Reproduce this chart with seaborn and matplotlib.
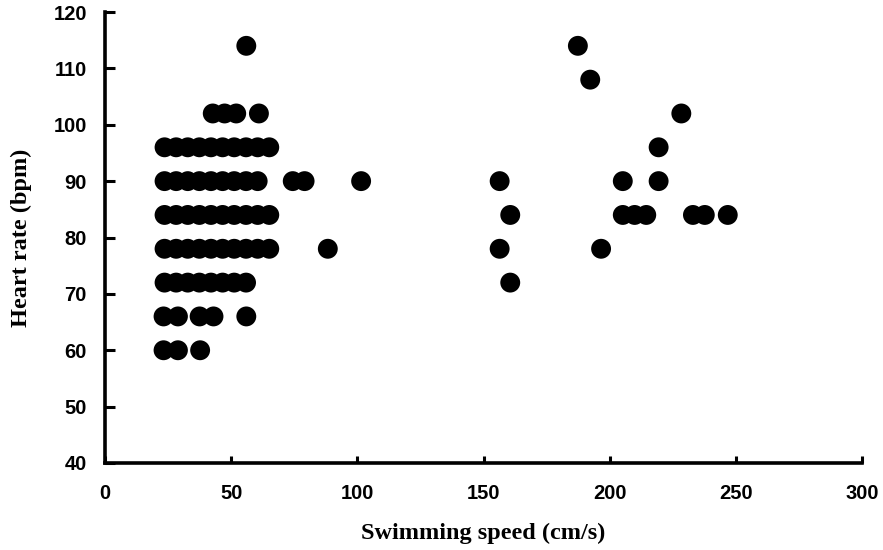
import pandas as pd
import numpy as np
import matplotlib
matplotlib.use("Agg")
import matplotlib.pyplot as plt
import seaborn as sns

# Swimming speed (cm/s) of each point, one list per heart-rate level (bpm)
hr_levels = [60, 66, 72, 78, 84, 90, 96, 102, 108, 114]

speed_60 = [23.2, 28.9, 37.7]
speed_66 = [23.2, 28.9, 37.5, 43.0, 56.0]
speed_72 = [23.6, 28.2, 32.8, 37.4, 42.0, 46.6, 51.2, 55.9, 160.6]
speed_78 = [23.6, 28.2, 32.8, 37.4, 42.0, 46.6, 51.2, 55.9, 60.5, 65.1,
            88.3, 156.4, 196.6]
speed_84 = [23.6, 28.2, 32.8, 37.4, 42.0, 46.6, 51.2, 55.9, 60.5, 65.1,
            160.6, 205.2, 209.9, 214.5, 233.0, 237.7, 246.8]
speed_90 = [23.6, 28.2, 32.8, 37.4, 42.0, 46.6, 51.2, 55.9, 60.5,
            74.4, 79.1, 101.5, 156.4, 205.2, 219.4]
speed_96 = [23.6, 28.2, 32.8, 37.4, 42.0, 46.6, 51.2, 55.9, 60.5, 65.1,
            219.4]
speed_102 = [42.7, 47.4, 52.0, 61.0, 228.4]
speed_108 = [192.3]
speed_114 = [56.0, 187.4]

speed_lists = [speed_60, speed_66, speed_72, speed_78, speed_84,
               speed_90, speed_96, speed_102, speed_108, speed_114]

x_ticks = [0, 50, 100, 150, 200, 250, 300]
y_ticks = [40, 50, 60, 70, 80, 90, 100, 110, 120]

rows = []
for hr, speeds in zip(hr_levels, speed_lists):
    for s in speeds:
        rows.append({"speed": s, "heart_rate": hr})
data = pd.DataFrame(rows)

sns.set_style("ticks")

fig = plt.figure(figsize=(8.83, 5.5), dpi=100)
ax = fig.add_axes([105 / 883, 1 - 463 / 550, 757 / 883, 451 / 550])

sns.scatterplot(data=data, x="speed", y="heart_rate", ax=ax,
                color="black", s=205, edgecolor="none", linewidth=0,
                legend=False)

ax.set_xlim(0, 300)
ax.set_ylim(40, 120)
ax.set_xticks(x_ticks)
ax.set_yticks(y_ticks)

tick_font = {"family": "Liberation Sans", "weight": "bold", "size": 14.5}
ax.set_xticklabels([str(t) for t in x_ticks], fontdict=tick_font)
ax.set_yticklabels([str(t) for t in y_ticks], fontdict=tick_font)

ax.tick_params(axis="y", direction="in", length=7, width=2.2,
               pad=13, colors="black")
ax.tick_params(axis="x", direction="in", length=5, width=2.2,
               pad=15, colors="black")

for side in ["top", "right"]:
    ax.spines[side].set_visible(False)
for side in ["left", "bottom"]:
    ax.spines[side].set_linewidth(2.6)
    ax.spines[side].set_color("black")

label_font = {"family": "Liberation Serif", "weight": "bold", "size": 17.5,
              "color": "black"}
ax.set_xlabel("Swimming speed (cm/s)", fontdict=label_font)
ax.set_ylabel("Heart rate (bpm)", fontdict=label_font)
ax.xaxis.set_label_coords(0.5, -0.133)
ax.yaxis.set_label_coords(-0.096, 0.5)

fig.savefig("out.png", dpi=100, facecolor="white")
